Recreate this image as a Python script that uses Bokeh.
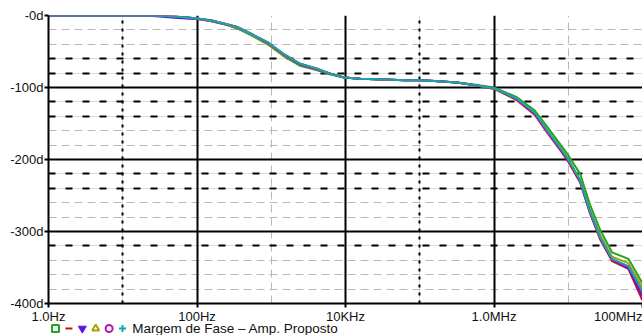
from bokeh.plotting import figure
from bokeh.layouts import column
from bokeh.models import FixedTicker, Grid, ColumnDataSource
from bokeh.core.properties import value
from bokeh.embed import file_html
from bokeh.resources import INLINE

# ---------------- data ----------------
freq = [1, 10, 20, 31.6, 50.1, 79.4, 100, 158, 251, 347, 525, 891, 1445, 2455,
        4169, 6310, 9550, 15850, 32360, 63100, 1.0e5, 1.585e5, 3.162e5, 5.623e5,
        1.0e6, 1.995e6, 3.548e6, 5.248e6, 7.943e6, 1.0e7, 1.445e7, 1.950e7,
        2.692e7, 3.890e7, 6.457e7, 1.0e8]

phase_green = [0, 0, 0, -0.5, -1.5, -3, -4, -8, -13, -18, -27, -40, -56, -70, -76, -82, -86,
               -88, -89, -90, -90, -91, -93, -96, -100, -113, -132, -155, -180, -194, -220,
               -262, -298, -329, -338, -372]
phase_red = [0, 0, 0, -0.5, -1.5, -3, -4, -7, -12, -16, -25, -37, -53, -67, -74, -81, -86,
             -88, -89, -90, -90, -91, -93, -97, -102, -117, -138, -163, -188, -203, -232,
             -274, -311, -341, -352, -396]
phase_blue = [0, 0, 0, -1.5, -3, -4.5, -5, -8, -13, -17, -26, -38, -54, -68, -75, -81, -86,
              -88, -89, -90, -90, -91, -93, -97, -101, -116, -136, -161, -186, -201, -230,
              -272, -309, -339, -351, -390]
phase_olive = [0, 0, 0, -0.5, -1.5, -3, -4, -7.5, -12.5, -17, -26, -39, -55, -68, -75, -81, -86,
               -88, -89, -90, -90, -91, -93, -97, -101, -115, -135, -159, -184, -199, -228,
               -269, -305, -335, -344, -378]
phase_magenta = [0, 0, 0, -0.5, -1.5, -3, -4, -7, -12, -16, -25, -38, -54, -68, -75, -81, -86,
                 -88, -89, -90, -90, -91, -93, -97, -101, -116, -137, -162, -187, -201, -230,
                 -272, -309, -339, -349, -386]
phase_cyan = [0, 0, 0, -0.5, -1.5, -3, -4, -7, -12, -16, -25, -37, -53, -67, -74, -81, -86,
              -88, -89, -90, -90, -91, -93, -97, -101, -115, -135, -160, -185, -200, -229,
              -271, -308, -338, -348, -383]

x_ticks = [1, 100, 1e4, 1e6, 1e8]
x_labels = ["1.0Hz", "100Hz", "10KHz", "1.0MHz", "100MHz"]
x_minor_plain = [1e3, 1e7]
x_minor_marked = [10, 1e5]
y_ticks = [0, -100, -200, -300, -400]
y_labels = ["-0d", "-100d", "-200d", "-300d", "-400d"]
y_minor_plain = [-20, -40, -160, -180, -260, -280, -340, -360, -380]
y_minor_marked = [-60, -80, -120, -140, -220, -240, -320]
legend_title = "Margem de Fase \u2013 Amp. Proposto"

series = [
    (phase_green, "#1fa51f", "square"),
    (phase_red, "#c81414", "dash"),
    (phase_blue, "#5a14e6", "inverted_triangle"),
    (phase_olive, "#a8a010", "triangle"),
    (phase_magenta, "#b414b4", "circle"),
    (phase_cyan, "#10a8a8", "cross"),
]

FONT = "Liberation Sans"
LEFT = 48

p = figure(width=642, height=335, frame_width=594, frame_height=288,
           x_axis_type="log", x_range=(1, 1e8), y_range=(-400, 0),
           output_backend="svg", toolbar_location=None,
           min_border_left=LEFT, min_border_right=0, min_border_top=15, min_border_bottom=32)
p.outline_line_color = None
p.xgrid.visible = False
p.ygrid.visible = False

def add_grid(dim, ticks, color, width, dash):
    g = Grid(dimension=dim, ticker=FixedTicker(ticks=ticks),
             grid_line_color=color, grid_line_width=width, grid_line_dash=dash)
    p.add_layout(g)

add_grid(0, x_minor_plain, "#b8b8b8", 1, "8 5")
add_grid(1, y_minor_plain, "#b8b8b8", 1, "8 5")
add_grid(0, x_minor_marked, "#b8b8b8", 1, "1 1")
add_grid(1, y_minor_marked, "#b8b8b8", 1, "1 1")
add_grid(0, x_minor_marked, "#000000", 2, "3 5")
add_grid(1, y_minor_marked, "#000000", 2, "7 10")
add_grid(0, x_ticks, "#000000", 2, "solid")
add_grid(1, y_ticks, "#000000", 2, "solid")

for ys, col, _ in series:
    p.line(freq, ys, line_color=col, line_width=2)

for ax in (p.xaxis[0], p.yaxis[0]):
    ax.axis_line_width = 2
    ax.axis_line_color = "black"
    ax.major_tick_line_width = 2
    ax.major_tick_line_color = "black"
    ax.major_tick_out = 4
    ax.major_tick_in = 0
    ax.minor_tick_line_color = None
    ax.major_label_text_font = FONT
    ax.major_label_text_font_size = "13px"
    ax.major_label_text_color = "#111111"
    ax.major_label_standoff = 1

p.xaxis.ticker = FixedTicker(ticks=x_ticks)
p.xaxis.major_label_overrides = {t: l for t, l in zip(x_ticks, x_labels)}
p.yaxis.ticker = FixedTicker(ticks=y_ticks)
p.yaxis.major_label_overrides = {t: l for t, l in zip(y_ticks, y_labels)}

# ---------------- legend strip (overlaps the bottom border) ----------------
# the column aligns this strip's frame with the main frame (x = 48..642 px),
# so its x range is expressed in page pixels over that span
STRIP_H = 15
leg = figure(width=642, height=STRIP_H, x_range=(LEFT, 642), y_range=(0, STRIP_H),
             x_axis_location=None, y_axis_location=None,
             output_backend="svg", toolbar_location=None,
             min_border_left=0, min_border_right=0, min_border_top=0, min_border_bottom=0,
             margin=(-STRIP_H, 0, 0, 0), styles={"margin-top": f"-{STRIP_H}px"})
leg.xgrid.visible = False
leg.ygrid.visible = False
leg.outline_line_color = None
leg.background_fill_alpha = 0
leg.border_fill_alpha = 0

x0, step, ymid = 55, 13.4, 7
for i, (_, col, mk) in enumerate(series):
    src = ColumnDataSource(data=dict(x=[x0 + i * step], y=[ymid]))
    if mk == "inverted_triangle":
        leg.scatter("x", "y", source=src, marker=mk, size=8, fill_color=col,
                    line_color=col, line_width=1)
    else:
        leg.scatter("x", "y", source=src, marker=mk, size=7, fill_color=None,
                    line_color=col, line_width=2)
leg.text(x=[x0 + len(series) * step - 3.7], y=[ymid], text=[legend_title],
         text_font=value(FONT), text_font_size="13.5px", text_color="#111111",
         text_baseline="middle", text_align="left")

layout = column(p, leg, spacing=0)
open("out.html", "w").write(file_html(layout, INLINE))
